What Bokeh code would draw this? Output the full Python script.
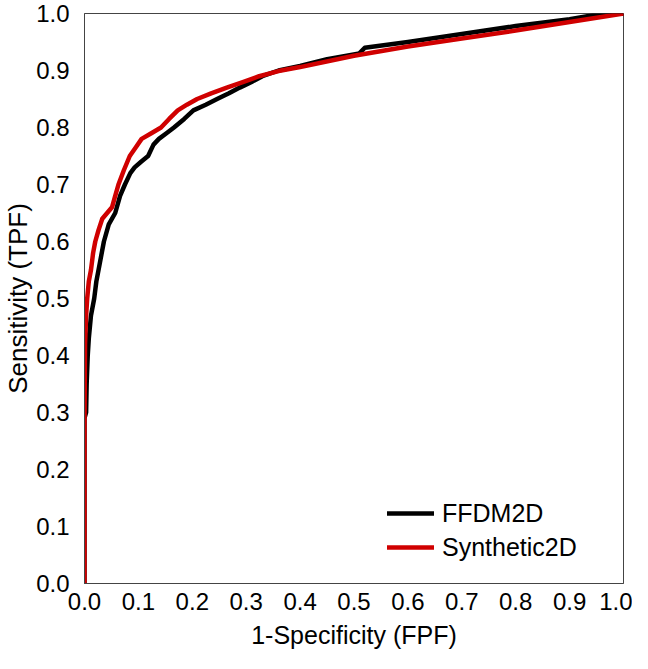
from bokeh.plotting import figure
from bokeh.models import FixedTicker, PrintfTickFormatter, Legend, LegendItem, Range1d
from bokeh.embed import file_html
from bokeh.resources import INLINE

ticks = [0.0, 0.1, 0.2, 0.3, 0.4, 0.5, 0.6, 0.7, 0.8, 0.9, 1.0]

ffdm_fpf = [0.0, 0.0, 0.003, 0.004, 0.006, 0.008, 0.012, 0.018, 0.022, 0.028, 0.036, 0.045,
            0.057, 0.066, 0.075, 0.085, 0.093, 0.105, 0.118, 0.128, 0.138, 0.152, 0.166, 0.185,
            0.202, 0.225, 0.246, 0.268, 0.288, 0.31, 0.33, 0.36, 0.40, 0.45, 0.51, 0.52, 0.60,
            0.70, 0.80, 0.90, 0.95, 1.0]
ffdm_tpf = [0.0, 0.29, 0.30, 0.35, 0.40, 0.43, 0.47, 0.50, 0.53, 0.56, 0.60, 0.63,
            0.65, 0.68, 0.70, 0.72, 0.73, 0.74, 0.75, 0.77, 0.78, 0.79, 0.80, 0.815,
            0.83, 0.84, 0.85, 0.86, 0.87, 0.88, 0.89, 0.90, 0.908, 0.92, 0.93, 0.94, 0.95,
            0.964, 0.978, 0.99, 0.998, 1.0]

syn_fpf = [0.0, 0.0, 0.001, 0.003, 0.005, 0.008, 0.012, 0.016, 0.02, 0.026, 0.033, 0.042,
           0.051, 0.057, 0.063, 0.073, 0.084, 0.095, 0.106, 0.124, 0.142, 0.157, 0.173, 0.19,
           0.209, 0.235, 0.264, 0.295, 0.324, 0.36, 0.40, 0.50, 0.60, 0.70, 0.80, 0.90, 1.0]
syn_tpf = [0.0, 0.28, 0.42, 0.47, 0.50, 0.53, 0.55, 0.58, 0.60, 0.62, 0.64, 0.65,
           0.66, 0.68, 0.70, 0.725, 0.75, 0.765, 0.78, 0.79, 0.80, 0.815, 0.83, 0.84,
           0.85, 0.86, 0.87, 0.88, 0.89, 0.899, 0.906, 0.926, 0.942, 0.956, 0.970, 0.985, 1.0]

FONT = "Liberation Sans"

p = figure(width=632, height=653, output_backend="svg", toolbar_location=None,
           x_range=Range1d(0, 1), y_range=Range1d(0, 1),
           min_border_left=74, min_border_right=9, min_border_top=13, min_border_bottom=70)

p.xgrid.visible = False
p.ygrid.visible = False
p.outline_line_color = "#444444"
p.outline_line_width = 1

for ax in (p.xaxis[0], p.yaxis[0]):
    ax.ticker = FixedTicker(ticks=ticks)
    ax.formatter = PrintfTickFormatter(format="%.1f")
    ax.major_tick_line_color = None
    ax.minor_tick_line_color = None
    ax.axis_line_color = "#444444"
    ax.major_label_text_font = FONT
    ax.major_label_text_font_size = "24px"
    ax.major_label_text_color = "black"
    ax.axis_label_text_font = FONT
    ax.axis_label_text_font_style = "normal"
    ax.axis_label_text_color = "black"
    ax.axis_label_standoff = 0

p.yaxis[0].major_label_standoff = 9
p.xaxis[0].major_label_standoff = 3
p.xaxis[0].axis_label_standoff = 8
p.xaxis[0].axis_label = "1-Specificity (FPF)"
p.xaxis[0].axis_label_text_font_size = "25px"
p.yaxis[0].axis_label = "Sensitivity (TPF)"
p.yaxis[0].axis_label_text_font_size = "26px"

r1 = p.line(ffdm_fpf, ffdm_tpf, line_color="black", line_width=4.5,
            line_join="round", line_cap="round")
r2 = p.line(syn_fpf, syn_tpf, line_color="#d00000", line_width=4.5,
            line_join="round", line_cap="round")

legend = Legend(items=[LegendItem(label="FFDM2D", renderers=[r1]),
                       LegendItem(label="Synthetic2D", renderers=[r2])],
                location=(303, 21), padding=0, margin=0, spacing=4,
                glyph_width=47, glyph_height=30, label_height=30, label_standoff=8,
                label_text_font=FONT, label_text_font_size="25px", label_text_color="black",
                border_line_color=None, background_fill_alpha=0)
p.add_layout(legend)

open("out.html", "w").write(file_html(p, INLINE))
